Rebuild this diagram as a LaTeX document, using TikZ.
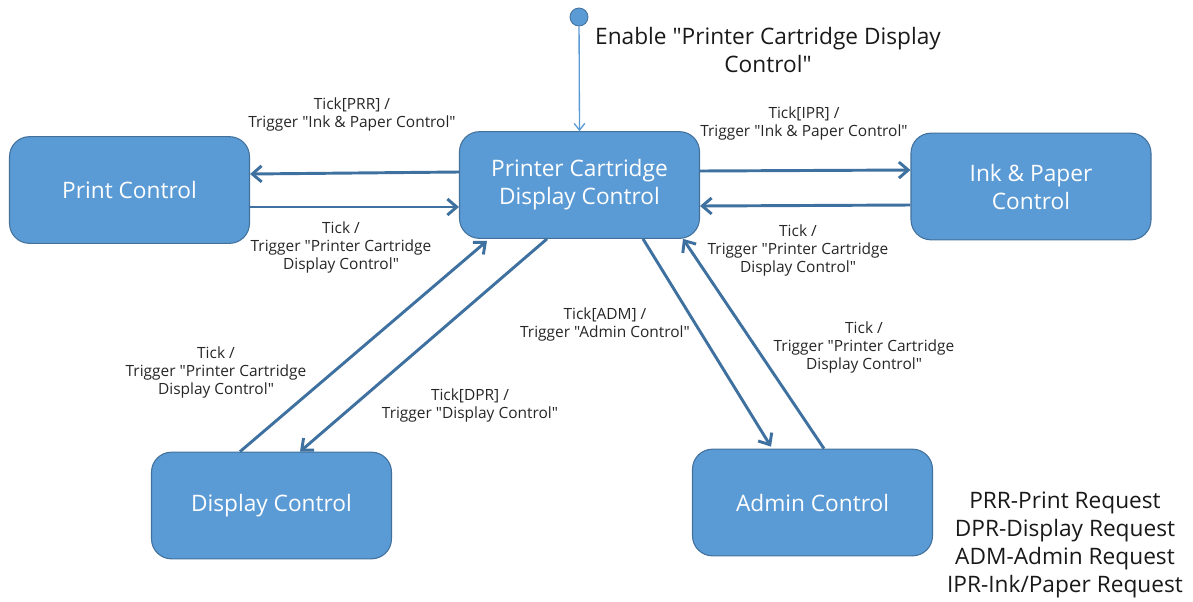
\documentclass[tikz,border=0pt]{standalone}
\usepackage{fontspec}
\setmainfont{Open Sans}[Ligatures=TeXOff]
\usetikzlibrary{arrows.meta,positioning,calc}

\definecolor{boxfill}{HTML}{5B9BD5}
\definecolor{boxline}{HTML}{41719C}
\definecolor{arrline}{HTML}{3F71A0}

\tikzset{
  ctrl/.style={rectangle, rounded corners=15pt, draw=boxline, line width=0.8pt,
    fill=boxfill, minimum width=180pt, minimum height=80pt, text=white,
    font=\fontsize{17}{21}\selectfont, align=center},
  trans/.style={draw=arrline, line width=2.2pt, -{Straight Barb[length=7pt,width=12pt]}},
  initarr/.style={draw=boxfill, line width=1pt, -{Straight Barb[length=5pt,width=8pt]}},
  lbl/.style={font=\fontsize{11.6}{13.5}\selectfont, align=center, text=black!85},
  big/.style={font=\fontsize{17}{21}\selectfont, align=center, text=black!90},
}

\begin{document}
\begin{tikzpicture}[x=0.75pt,y=-0.75pt]
  \useasboundingbox (0,0) rectangle (1193,601);

  % states
  \node[ctrl] (pcdc) at (579.5,185) {Printer Cartridge\\Display Control};
  \node[ctrl] (prt)  at (129.5,190) {Print Control};
  \node[ctrl] (ink)  at (1031,186.5) {Ink \& Paper\\Control};
  \node[ctrl] (disp) at (271.5,505.5) {Display Control};
  \node[ctrl] (adm)  at (812.5,502.5) {Admin Control};

  % initial
  \node[circle, fill=boxfill, draw=boxline, line width=0.6pt, minimum size=13.5pt, inner sep=0pt] (init) at (579,17) {};
  \node[big] (enable) at (768,50) {Enable "Printer Cartridge Display\\Control"};
  \draw[initarr] (init) -- (pcdc.north);

  % transitions
  \draw[trans] ($(pcdc.west)+(0,-13)$) -- ($(prt.east)+(0,-16)$);
  \draw[trans] ($(prt.east)+(0,17)$) -- ($(pcdc.west)+(0,22)$);
  \draw[trans] ($(pcdc.east)+(0,-14)$) -- ($(ink.west)+(0,-16.5)$);
  \draw[trans] ($(ink.west)+(0,18.5)$) -- ($(pcdc.east)+(0,21)$);
  \draw[trans] ($(disp.north)+(-31.5,0)$) -- ($(pcdc.south)+(-92.5,2)$);
  \draw[trans] ($(pcdc.south)+(-32.5,0)$) -- ($(disp.north)+(28.5,0)$);
  \draw[trans] ($(pcdc.south)+(63.5,0)$) -- ($(adm.north)+(-41.5,-2)$);
  \draw[trans] ($(adm.north)+(11.5,0)$) -- ($(pcdc.south)+(103.5,0)$);

  % labels
  \node[lbl] (l-prr)  at (352,114)   {Tick[PRR] /\\Trigger "Ink \& Paper Control"};
  \node[lbl] (l-prt)  at (341,247)   {Tick /\\Trigger "Printer Cartridge\\Display Control"};
  \node[lbl] (l-ipr)  at (804,123.5) {Tick[IPR] /\\Trigger "Ink \& Paper Control"};
  \node[lbl] (l-ink)  at (798,250)   {Tick /\\Trigger "Printer Cartridge\\Display Control"};
  \node[lbl] (l-disp) at (216,372)   {Tick /\\Trigger "Printer Cartridge\\Display Control"};
  \node[lbl] (l-dpr)  at (470,405)   {Tick[DPR] /\\Trigger "Display Control"};
  \node[lbl] (l-adm)  at (605,324)   {Tick[ADM] /\\Trigger "Admin Control"};
  \node[lbl] (l-back) at (864,347)   {Tick /\\Trigger "Printer Cartridge\\Display Control"};

  % legend
  \node[big] (legend) at (1065,545) {PRR-Print Request\\DPR-Display Request\\ADM-Admin Request\\IPR-Ink/Paper Request};
\end{tikzpicture}
\end{document}
